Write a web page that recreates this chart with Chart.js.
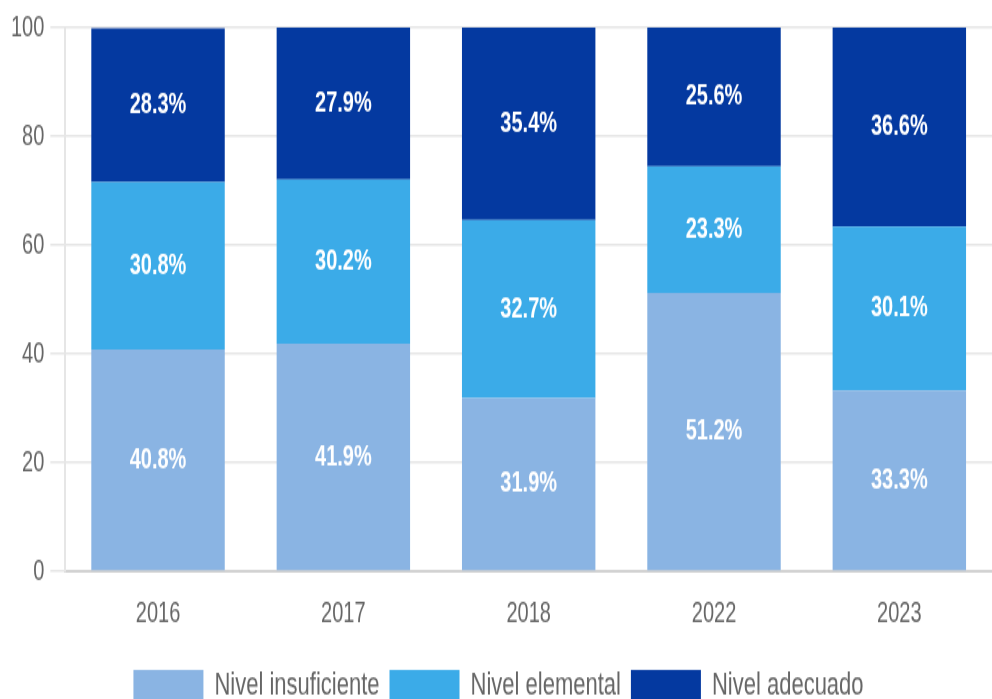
<!DOCTYPE html>
<html>
<head>
<meta charset="utf-8">
<script src="https://cdn.jsdelivr.net/npm/chart.js@4.4.1/dist/chart.umd.min.js"></script>
<style>
  html, body { margin: 0; padding: 0; background: #fff; overflow: hidden; width: 992px; height: 699px; }
  #wrap { position: absolute; left: 0; top: 0; width: 992px; height: 494px; transform: scaleY(1.45); transform-origin: 0 0; }
</style>
</head>
<body>
<div id="wrap"><canvas id="c"></canvas></div>
<script>
const years = ['2016', '2017', '2018', '2022', '2023'];
const insuficiente = [40.8, 41.9, 31.9, 51.2, 33.3];
const elemental = [30.8, 30.2, 32.7, 23.3, 30.1];
const adecuado = [28.3, 27.9, 35.4, 25.6, 36.6];
const seriesNames = ['Nivel insuficiente', 'Nivel elemental', 'Nivel adecuado'];
const yTicks = [0, 20, 40, 60, 80, 100];

const FONT = "'Liberation Sans', Arial, Helvetica, sans-serif";

const labelPlugin = {
  id: 'segLabels',
  afterDatasetsDraw(chart) {
    const ctx = chart.ctx;
    ctx.save();
    ctx.font = 'bold 20px ' + FONT;
    ctx.fillStyle = '#ffffff';
    ctx.textAlign = 'center';
    ctx.textBaseline = 'middle';
    chart.data.datasets.forEach((ds, di) => {
      const meta = chart.getDatasetMeta(di);
      meta.data.forEach((el, i) => {
        const p = el.getProps(['x', 'y', 'base'], true);
        ctx.fillText(ds.data[i].toFixed(1) + '%', p.x, (p.y + p.base) / 2);
      });
    });
    ctx.restore();
  }
};

new Chart(document.getElementById('c'), {
  type: 'bar',
  data: {
    labels: years,
    datasets: [
      { label: seriesNames[0], data: insuficiente, backgroundColor: '#8AB4E3' },
      { label: seriesNames[1], data: elemental, backgroundColor: '#3BABE8' },
      { label: seriesNames[2], data: adecuado, backgroundColor: '#0439A0' }
    ]
  },
  options: {
    responsive: true,
    maintainAspectRatio: false,
    animation: false,
    events: [],
    layout: { padding: { top: 19, left: 5, right: 0, bottom: 0 } },
    font: { family: FONT },
    scales: {
      x: {
        stacked: true,
        grid: { display: false, drawTicks: false },
        border: { display: true, color: '#d2d2d2', width: 2 },
        ticks: { color: '#666', font: { family: FONT, size: 20, lineHeight: 1 }, padding: 19 }
      },
      y: {
        stacked: true,
        min: 0,
        max: 100,
        afterBuildTicks(scale) { scale.ticks = yTicks.map(v => ({ value: v })); },
        grid: { color: '#e6e6e6', lineWidth: 1.5, tickLength: 15, drawTicks: true },
        border: { display: true, color: '#e6e6e6', width: 2 },
        ticks: { color: '#666', font: { family: FONT, size: 20 }, padding: 6 }
      }
    },
    plugins: {
      legend: {
        position: 'bottom',
        labels: {
          color: '#666',
          boxWidth: 70,
          padding: 10,
          font: { family: FONT, size: 22 }
        }
      },
      tooltip: { enabled: false }
    }
  },
  plugins: [labelPlugin]
});
</script>
</body>
</html>
